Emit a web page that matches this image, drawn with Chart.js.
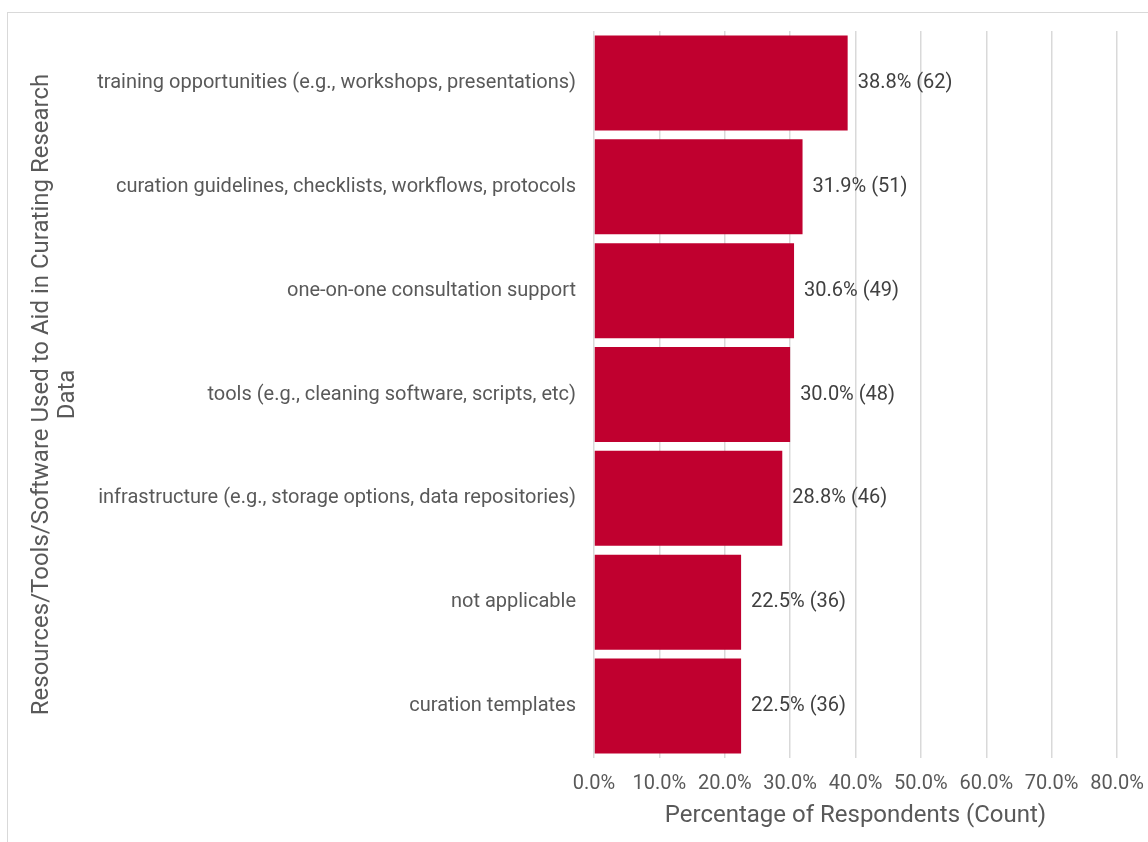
<!DOCTYPE html>
<html>
<head>
<meta charset="utf-8">
<script src="https://cdn.jsdelivr.net/npm/chart.js@4.4.1/dist/chart.umd.min.js"></script>
<style>
  html, body { margin: 0; padding: 0; background: #fff; overflow: hidden; }
  #frame { position: absolute; left: 7px; top: 12px; width: 1200px; height: 900px; border: 1px solid #d9d9d9; }
  #chart { position: absolute; left: 0; top: 0; }
</style>
</head>
<body>
<div id="frame"></div>
<canvas id="chart" width="1148" height="842"></canvas>
<script>
// resource categories, top to bottom
var categories = [
	"training opportunities (e.g., workshops, presentations)",
	"curation guidelines, checklists, workflows, protocols",
	"one-on-one consultation support",
	"tools (e.g., cleaning software, scripts, etc)",
	"infrastructure (e.g., storage options, data repositories)",
	"not applicable",
	"curation templates"
];
var percents = [38.8, 31.9, 30.6, 30.0, 28.8, 22.5, 22.5];
var counts = [62, 51, 49, 48, 46, 36, 36];
var xTicks = [0, 10, 20, 30, 40, 50, 60, 70, 80];

var textColor = "#595959";
var fontFamily = "Roboto, 'Liberation Sans', sans-serif";

// writes "pct% (n)" just right of each bar
var valueLabels = {
	id: "valueLabels",
	afterDatasetsDraw: function(chart) {
		var ctx = chart.ctx;
		var meta = chart.getDatasetMeta(0);
		ctx.save();
		ctx.font = "20px " + fontFamily;
		ctx.fillStyle = "#404040";
		ctx.textAlign = "left";
		ctx.textBaseline = "middle";
		meta.data.forEach(function(bar, i) {
			ctx.fillText(percents[i].toFixed(1) + "% (" + counts[i] + ")", bar.x + 10, bar.y);
		});
		ctx.restore();
	}
};

var ctx = document.getElementById("chart");

var chart = new Chart(ctx, {
	type: "bar",
	data: {
		labels: categories,
		datasets: [{
			data: percents,
			backgroundColor: "#c0002f",
			borderWidth: 0,
			barPercentage: 0.915,
			categoryPercentage: 1
		}]
	},
	options: {
		indexAxis: "y",
		responsive: false,
		animation: false,
		layout: { padding: { left: 10, top: 31, right: 31, bottom: 0 } },
		plugins: {
			legend: { display: false },
			tooltip: { enabled: false }
		},
		scales: {
			x: {
				min: 0,
				max: 80,
				afterBuildTicks: function(scale) {
					scale.ticks = xTicks.map(function(v) { return { value: v }; });
				},
				afterFit: function(scale) {
					scale.height = 84;
					scale.paddingLeft = 0;
					scale.paddingRight = 0;
				},
				grid: { color: "#d9d9d9", lineWidth: 1.5, drawTicks: false },
				border: { display: false },
				ticks: {
					color: textColor,
					font: { family: fontFamily, size: 20 },
					padding: 14,
					maxRotation: 0,
					callback: function(v) { return v.toFixed(1) + "%"; }
				},
				title: {
					display: true,
					text: "Percentage of Respondents (Count)",
					color: textColor,
					font: { family: fontFamily, size: 24 },
					padding: { top: 0, bottom: 12 }
				}
			},
			y: {
				afterFit: function(scale) {
					scale.width = 584;
					scale.paddingTop = 0;
					scale.paddingBottom = 0;
				},
				grid: { display: false, drawTicks: false },
				border: { display: false },
				ticks: {
					color: textColor,
					font: { family: fontFamily, size: 20 },
					padding: 18
				},
				title: {
					display: true,
					text: ["Resources/Tools/Software Used to Aid in Curating Research", "Data"],
					color: textColor,
					font: { family: fontFamily, size: 24, lineHeight: 1.08 },
					padding: { top: 19, bottom: 0 }
				}
			}
		}
	},
	plugins: [valueLabels]
});
</script>
</body>
</html>
